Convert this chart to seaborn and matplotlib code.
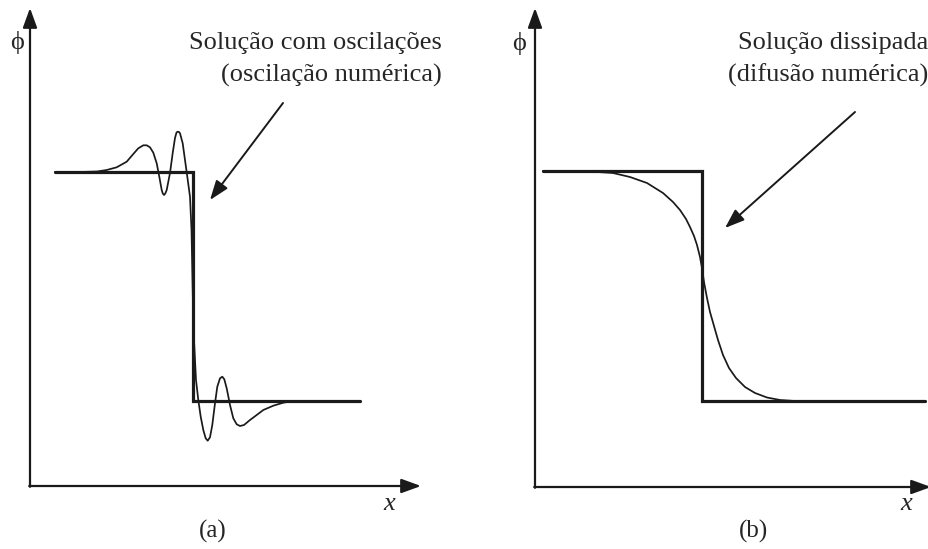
import matplotlib
matplotlib.use("Agg")
import matplotlib.pyplot as plt
import numpy as np
import pandas as pd
import seaborn as sns

sns.set_style("white")
plt.rcParams["font.family"] = ["Liberation Serif", "DejaVu Serif"]

# ---- panel (a): exact step and numerically oscillating solution ----
step_a_x = [2.5, 16.3, 16.3, 33.0]
step_a_phi = [31.4, 31.4, 8.5, 8.5]

osc_x = [2.5, 5.0, 6.7, 7.67, 8.67, 9.67, 10.33, 10.83, 11.33, 11.67, 12.0,
         12.33, 12.67, 12.93, 13.17, 13.28, 13.4, 13.53, 13.67, 14.0, 14.27,
         14.5, 14.65, 14.77, 14.9, 15.0, 15.27, 15.5, 15.73, 16.0, 16.15,
         16.25, 16.35, 16.5, 16.6, 16.83, 17.07, 17.33, 17.57, 17.77, 18.0,
         18.23, 18.5, 18.73, 19.0, 19.23, 19.43, 19.67, 20.0, 20.33, 20.67,
         21.0, 21.4, 22.0, 22.67, 23.33, 24.33, 25.33, 26.33, 30.0, 33.0]
osc_phi = [31.4, 31.4, 31.45, 31.6, 31.87, 32.43, 33.2, 33.77, 34.07, 34.07,
           33.87, 33.33, 32.27, 30.93, 29.6, 29.25, 29.1, 29.25, 29.6, 31.3,
           33.3, 34.8, 35.35, 35.43, 35.4, 35.27, 34.27, 32.6, 30.93, 28.93,
           25.6, 20.6, 15.6, 12.6, 10.6, 8.6, 6.93, 5.6, 4.77, 4.53, 4.87,
           6.1, 8.27, 9.93, 10.77, 10.93, 10.67, 9.77, 8.1, 6.77, 6.17, 6.0,
           6.1, 6.6, 7.1, 7.6, 8.03, 8.33, 8.5, 8.5, 8.5]

# ---- panel (b): exact step and numerically diffused solution ----
step_b_x = [0.8, 16.7, 16.7, 39.0]
step_b_phi = [31.6, 31.6, 8.6, 8.6]

dif_x = [0.8, 3.5, 6.2, 7.8, 9.5, 11.2, 12.8, 13.8, 14.5, 15.1, 15.5, 15.9,
         16.2, 16.5, 16.7, 16.9, 17.2, 17.5, 17.9, 18.3, 18.8, 19.4, 20.1,
         21.0, 22.0, 23.2, 24.5, 26.0, 39.0]
dif_phi = [31.6, 31.6, 31.5, 31.4, 31.0, 30.4, 29.4, 28.5, 27.7, 26.8, 26.0,
           25.1, 24.2, 23.0, 21.9, 20.5, 18.9, 17.5, 16.1, 14.7, 13.2, 11.9,
           10.9, 10.0, 9.4, 8.95, 8.7, 8.6, 8.6]

panel_labels = ["(a)", "(b)"]
notes = [["Solução com oscilações", "(oscilação numérica)"],
         ["Solução dissipada", "(difusão numérica)"]]

W, H, DPI = 929, 549, 100
fig = plt.figure(figsize=(W / DPI, H / DPI), dpi=DPI)
fig.patch.set_facecolor("white")

INK = "#1a1a1a"
TXT = "#262626"
HEAD = "-|>,head_length=0.66,head_width=0.24"

# each panel: axes rectangle in figure pixels, x/y limits in plot units
panels = [
    dict(rect=(0, 0, 460, 549), xlim=(-3.0, 43.0), ylim=(-6.3, 48.6),
         step=(step_a_x, step_a_phi), sol=(osc_x, osc_phi),
         xend=39.1, yend=47.8, phi_pos=(-1.3, 44.3), x_pos=(35.9, -1.8),
         lab_pos=(18.3, -4.5), note_x=41.2, note_y=(44.3, 41.1),
         arrow=((25.3, 38.3), (18.0, 28.6))),
    dict(rect=(460, 0, 469, 549), xlim=(-7.5, 39.4), ylim=(-6.2, 48.7),
         step=(step_b_x, step_b_phi), sol=(dif_x, dif_phi),
         xend=39.6, yend=47.9, phi_pos=(-1.6, 44.4), x_pos=(37.1, -1.7),
         lab_pos=(21.8, -4.4), note_x=39.3, note_y=(44.4, 41.2),
         arrow=((32.0, 37.5), (19.0, 25.9))),
]

for i, p in enumerate(panels):
    x0, y0, w, h = p["rect"]
    ax = fig.add_axes([x0 / W, y0 / H, w / W, h / H])
    ax.set_xlim(*p["xlim"])
    ax.set_ylim(*p["ylim"])
    ax.set_axis_off()

    sx, sy = p["step"]
    sns.lineplot(x=sx, y=sy, ax=ax, sort=False, estimator=None,
                 color=INK, lw=2.3, solid_joinstyle="miter", zorder=3)
    cx, cy = p["sol"]
    sns.lineplot(x=cx, y=cy, ax=ax, sort=False, estimator=None,
                 color=INK, lw=1.25, solid_joinstyle="round", zorder=4)

    # coordinate axes drawn as arrows
    axis_style = dict(arrowstyle=HEAD, lw=1.6, color=INK, mutation_scale=18,
                      shrinkA=0, shrinkB=0)
    ax.annotate("", xy=(p["xend"], 0), xytext=(-0.08, 0),
                arrowprops=axis_style, annotation_clip=False)
    ax.annotate("", xy=(0, p["yend"]), xytext=(0, -0.08),
                arrowprops=axis_style, annotation_clip=False)

    ax.text(*p["phi_pos"], "\u03d5", fontsize=19, color=TXT,
            ha="center", va="center")
    ax.text(*p["x_pos"], "x", fontsize=19, style="italic", color=TXT,
            ha="center", va="center")
    ax.text(*p["lab_pos"], panel_labels[i], fontsize=18, color=TXT,
            ha="center", va="center")

    for line, yy in zip(notes[i], p["note_y"]):
        ax.text(p["note_x"], yy, line, fontsize=19, color=TXT,
                ha="right", va="center")

    tail, tip = p["arrow"]
    ax.annotate("", xy=tip, xytext=tail,
                arrowprops=dict(arrowstyle=HEAD, lw=1.4, color=INK,
                                mutation_scale=18, shrinkA=0, shrinkB=0),
                annotation_clip=False)

fig.savefig("out.png", dpi=DPI, facecolor="white")
